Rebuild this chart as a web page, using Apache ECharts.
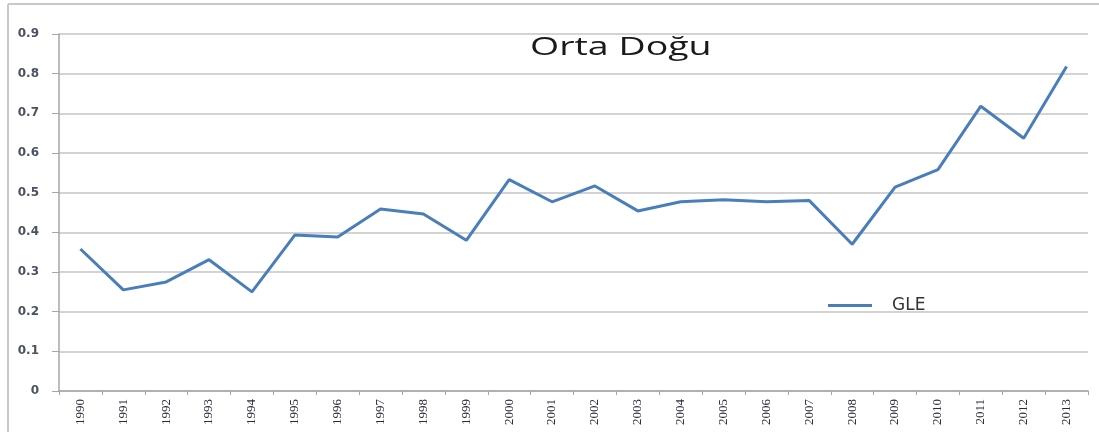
<!DOCTYPE html>
<html>
<head>
<meta charset="utf-8">
<script src="https://cdn.jsdelivr.net/npm/echarts@6/dist/echarts.min.js"></script>
<style>
  html, body { margin: 0; padding: 0; background: #fff; }
  #chart { width: 1099px; height: 432px; }
</style>
</head>
<body>
<div id="chart"></div>
<script>
// yillar (x ekseni)
const years = ["1990", "1991", "1992", "1993", "1994", "1995", "1996", "1997", "1998", "1999",
  "2000", "2001", "2002", "2003", "2004", "2005", "2006", "2007", "2008", "2009",
  "2010", "2011", "2012", "2013"];
// GLE degerleri
const gle = [0.358, 0.255, 0.275, 0.331, 0.250, 0.393, 0.388, 0.459, 0.446, 0.380,
  0.533, 0.477, 0.517, 0.454, 0.477, 0.482, 0.477, 0.480, 0.370, 0.514,
  0.558, 0.718, 0.637, 0.818];
const seriesName = "GLE";
const chartTitle = "Orta Doğu";

const myChart = echarts.init(document.getElementById("chart"));

const option = {
  backgroundColor: "#fff",
  animation: false,
  legend: {
    left: 823,
    top: 292,
    itemWidth: 44,
    itemHeight: 3,
    icon: "rect",
    textStyle: { fontFamily: "DejaVu Sans", fontSize: 17, color: "#333", padding: [0, 0, 0, 15] },
    data: [seriesName]
  },
  grid: { left: 59, right: 11, top: 34, bottom: 41 },
  xAxis: {
    type: "category",
    data: years,
    boundaryGap: true,
    axisLine: { lineStyle: { color: "#a6a6a6", width: 1.5 } },
    axisTick: { show: true, length: 4, lineStyle: { color: "#a6a6a6" } },
    axisLabel: {
      rotate: 90,
      interval: 0,
      margin: 8,
      fontFamily: "Liberation Serif",
      fontSize: 13,
      color: "#2a2a3a"
    }
  },
  yAxis: {
    type: "value",
    min: 0,
    max: 0.9,
    interval: 0.1,
    axisLine: { show: true, lineStyle: { color: "#a6a6a6", width: 1.5 } },
    axisTick: { show: true, length: 7, lineStyle: { color: "#a6a6a6" } },
    axisLabel: {
      margin: 20,
      fontFamily: "DejaVu Sans",
      fontSize: 12,
      fontWeight: "bold",
      color: "#4a5260",
      formatter: (v) => (v === 0 ? "0" : v.toFixed(1))
    },
    splitLine: { lineStyle: { color: "#c4c4c4", width: 1.5 } }
  },
  series: [
    {
      name: seriesName,
      type: "line",
      data: gle,
      symbol: "none",
      color: "#4a7ebb",
      lineStyle: { width: 3, color: "#4a7ebb" }
    }
  ],
  graphic: [
    // dis cerceve (sol ve ust kenar)
    { type: "line", shape: { x1: 8, y1: 4, x2: 8, y2: 432 }, style: { stroke: "#c8c8c8", lineWidth: 2 } },
    { type: "line", shape: { x1: 8, y1: 4, x2: 1099, y2: 4 }, style: { stroke: "#c8c8c8", lineWidth: 2 } },
    // baslik (resimde yatay olarak gerilmis)
    {
      type: "group",
      x: 530,
      y: 31,
      scaleX: 1.5,
      children: [
        {
          type: "text",
          x: 0,
          y: 0,
          style: {
            text: chartTitle,
            fontFamily: "Open Sans",
            fontSize: 25,
            lineHeight: 34,
            fill: "#1a1a1a",
            textAlign: "left",
            textVerticalAlign: "top"
          }
        }
      ]
    }
  ]
};

myChart.setOption(option);
</script>
</body>
</html>
